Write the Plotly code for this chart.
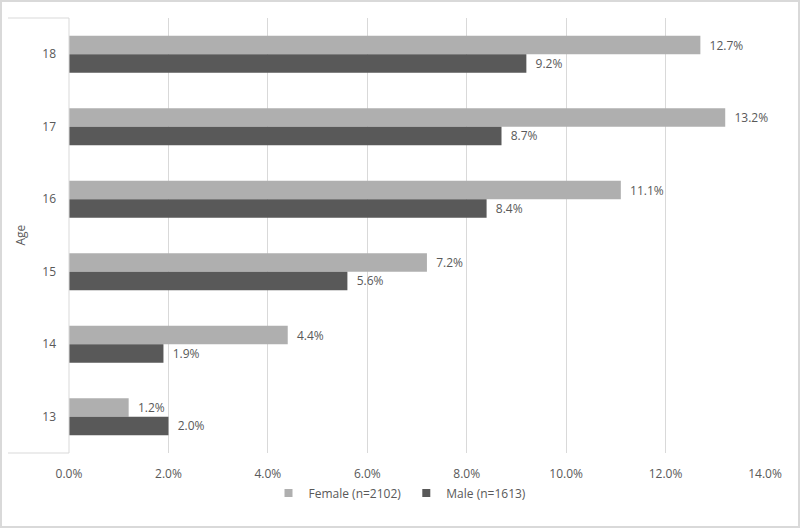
import plotly.graph_objects as go

ages = ["18", "17", "16", "15", "14", "13"]
female = [12.7, 13.2, 11.1, 7.2, 4.4, 1.2]
male = [9.2, 8.7, 8.4, 5.6, 1.9, 2.0]
x_ticks = [0, 2, 4, 6, 8, 10, 12, 14]
x_tick_labels = ["0.0%", "2.0%", "4.0%", "6.0%", "8.0%", "10.0%", "12.0%", "14.0%"]
names = ["Female (n=2102)", "Male (n=1613)"]
colors = ["#afafaf", "#595959"]

W, H = 800, 528
L, R, T, B = 69, 35, 18, 75
pw, ph = W - L - R, H - T - B

font = dict(family="Open Sans, sans-serif", size=12, color="#595959")

fig = go.Figure()
for vals, name, col in zip([female, male], names, colors):
    fig.add_trace(go.Bar(
        y=ages, x=vals, orientation="h", name=name, showlegend=False,
        marker=dict(color=col, line=dict(width=0)),
        text=[f"  {v:.1f}%" for v in vals], textposition="outside",
        textfont=font, cliponaxis=False,
    ))
for name, col in zip(names, colors):
    fig.add_trace(go.Scatter(
        x=[None], y=[None], mode="markers", name=name,
        marker=dict(symbol="square", size=8, color=col),
    ))

def px_x(p):
    return (p - L) / pw

def px_y(p):
    return (H - B - p) / ph

shapes = [
    dict(type="line", xref="paper", yref="paper", x0=px_x(8), x1=0, y0=1, y1=1,
         line=dict(color="#d9d9d9", width=1)),
    dict(type="line", xref="paper", yref="paper", x0=px_x(8), x1=0, y0=0, y1=0,
         line=dict(color="#d9d9d9", width=1)),
    dict(type="line", xref="paper", yref="paper", x0=0, x1=0, y0=0, y1=1,
         line=dict(color="#d9d9d9", width=1)),
    dict(type="rect", xref="paper", yref="paper", x0=px_x(1), x1=px_x(799),
         y0=px_y(527), y1=px_y(1), line=dict(color="#d9d9d9", width=2),
         fillcolor="rgba(0,0,0,0)", layer="below"),
]

fig.update_layout(
    width=W, height=H,
    margin=dict(l=L, r=R, t=T, b=B, autoexpand=False),
    paper_bgcolor="white", plot_bgcolor="white",
    font=font,
    barmode="group", bargap=0.49, bargroupgap=0,
    showlegend=True,
    legend=dict(orientation="h", xref="container", yref="container",
                x=0.5, xanchor="center", y=(H - 493) / H, yanchor="middle",
                font=font, itemwidth=30, traceorder="normal"),
    xaxis=dict(range=[0, 14], tickvals=x_ticks, ticktext=x_tick_labels,
               showgrid=True, gridcolor="#d9d9d9", gridwidth=1,
               zeroline=False, showline=False, ticks="", tickfont=font,
               ticklabelstandoff=12, automargin=False),
    yaxis=dict(autorange="reversed", type="category", showgrid=False,
               zeroline=False, showline=False, ticks="", tickfont=font,
               ticklabelstandoff=12, automargin=False),
    shapes=shapes,
    annotations=[dict(text="Age", xref="paper", yref="paper", x=px_x(20), y=0.5,
                      textangle=-90, showarrow=False, font=font,
                      xanchor="center", yanchor="middle")],
)

fig.write_html("out.html", config={"displayModeBar": False},
               post_script="document.body.style.margin='0';document.body.style.overflow='hidden';")
